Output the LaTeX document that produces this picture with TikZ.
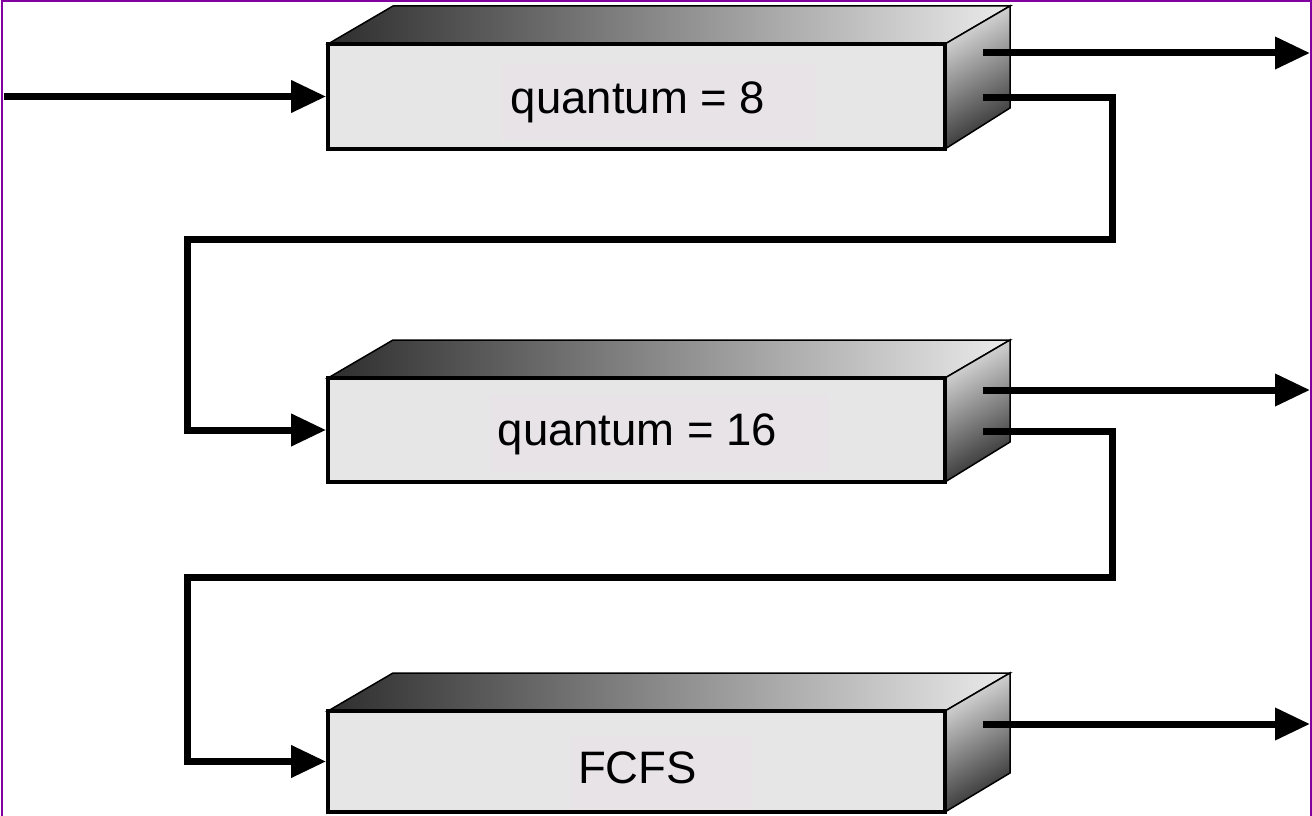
\documentclass[tikz,border=0pt]{standalone}
\usepackage{fontspec}
\setmainfont{Liberation Sans}
\usetikzlibrary{arrows.meta,calc}
\definecolor{facegray}{RGB}{230,230,230}
\definecolor{labelbg}{RGB}{231,227,231}
\definecolor{framepurple}{RGB}{128,0,160}
\tikzset{
 front/.style={draw=black, line width=3.8pt, fill=facegray, minimum width=617pt, inner sep=0pt},
 labeltext/.style={anchor=base, inner sep=0pt, font=\fontsize{45.5}{54}\selectfont},
 flow/.style={line width=7pt, line join=miter, -{Triangle[length=35pt,width=31pt]}},
 topface/.style={draw=black, line width=1.5pt, left color=black!82, right color=black!8},
 sideface/.style={draw=black, line width=1.5pt, top color=black!12, bottom color=black!82, shading angle=30},
}
\begin{document}
\begin{tikzpicture}[x=1pt,y=-1pt]
\useasboundingbox (0,0) rectangle (1312,816);
\fill[white] (0,0) rectangle (1312,816);

% box 1
\shade[topface] (328,44) -- (393,6) -- (1010,6) -- (945,44) -- cycle;
\shade[sideface] (945,44) -- (1010,6) -- (1010,108) -- (945,149) -- cycle;
\node[front, minimum height=105pt] (b1) at (636.5,96.5) {};
\fill[labelbg] (502,64) rectangle (815,141);
\node[labeltext] (l1) at (638,113) {quantum = 8};

% box 2
\shade[topface] (328,378) -- (393,340) -- (1010,340) -- (945,378) -- cycle;
\shade[sideface] (945,378) -- (1010,340) -- (1010,442) -- (945,482) -- cycle;
\node[front, minimum height=104pt] (b2) at (636.5,430) {};
\fill[labelbg] (490,395) rectangle (828,472);
\node[labeltext] (l2) at (637.5,445) {quantum = 16};

% box 3
\shade[topface] (328,711) -- (393,673) -- (1010,673) -- (945,711) -- cycle;
\shade[sideface] (945,711) -- (1010,673) -- (1010,773) -- (945,812) -- cycle;
\node[front, minimum height=101pt] (b3) at (636.5,761.5) {};
\fill[labelbg] (570,735) rectangle (752,810);
\node[labeltext] (l3) at (637.5,783) {FCFS};

% connectors
\coordinate (src) at (4,96.5);
\coordinate (o1s) at (983,53);
\coordinate (o1e) at (1310,53);
\coordinate (d1) at (983,97);
\coordinate (o2s) at (983,390);
\coordinate (o2e) at (1310,390);
\coordinate (d2) at (983,431);
\coordinate (o3s) at (983,724);
\coordinate (o3e) at (1310,724);

\draw[flow] (src) -- (b1.west);
\draw[flow] (o1s) -- (o1e);
\draw[flow] (d1) -- (1112,97) -- (1112,239) -- (187,239) |- (b2.west);
\draw[flow] (o2s) -- (o2e);
\draw[flow] (d2) -- (1112,431) -- (1112,577) -- (187,577) |- (b3.west);
\draw[flow] (o3s) -- (o3e);

% frame
\draw[framepurple, line width=2pt] (1.5,816) -- (1.5,1.5) -- (1310.5,1.5) -- (1310.5,816);
\end{tikzpicture}
\end{document}
